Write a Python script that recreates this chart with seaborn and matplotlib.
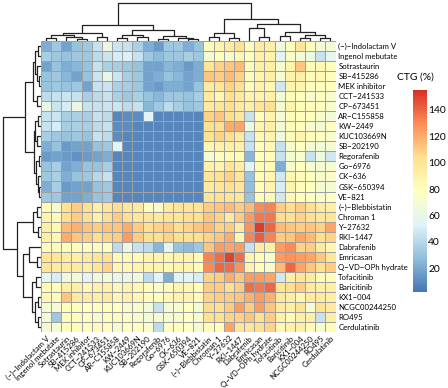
import numpy as np
import pandas as pd
import matplotlib
matplotlib.use("Agg")
import matplotlib.pyplot as plt
import seaborn as sns
from matplotlib.colors import LinearSegmentedColormap

drugs = ["(−)−Indolactam V", "Ingenol mebutate", "Sotrastaurin", "SB−415286", "MEK inhibitor",
         "CCT−241533", "CP−673451", "AR−C155858", "KW−2449", "KUC103669N", "SB−202190",
         "Regorafenib", "Go−6976", "CK−636", "GSK−650394", "VE−821", "(−)−Blebbistatin",
         "Chroman 1", "Y−27632", "RKI−1447", "Dabrafenib", "Emricasan", "Q−VD−OPh hydrate",
         "Tofacitinib", "Baricitinib", "KX1−004", "NCGC00244250", "RO495", "Cerdulatinib"]

# CTG (%) values, rows = drugs (same order), columns = drugs
ctg_values = [
    [22, 32, 18, 30, 32, 45, 62, 46, 45, 36, 22, 15, 32, 32, 22, 30, 80, 88, 95, 102, 80, 95, 92, 65, 78, 100, 80, 68, 68],
    [35, 32, 30, 32, 32, 42, 46, 50, 52, 45, 32, 26, 32, 32, 35, 32, 70, 80, 72, 85, 78, 90, 88, 55, 75, 68, 65, 45, 58],
    [18, 30, 22, 25, 30, 45, 36, 35, 32, 30, 18, 18, 25, 22, 15, 22, 100, 108, 112, 115, 82, 92, 92, 72, 88, 112, 82, 85, 80],
    [30, 32, 25, 18, 30, 46, 60, 46, 35, 32, 18, 22, 30, 25, 18, 22, 112, 110, 115, 108, 80, 88, 92, 70, 90, 90, 82, 85, 80],
    [30, 32, 30, 32, 18, 45, 46, 36, 35, 32, 18, 15, 22, 22, 18, 30, 95, 100, 108, 102, 80, 90, 85, 48, 88, 88, 80, 78, 78],
    [42, 45, 46, 45, 35, 42, 45, 36, 32, 36, 30, 25, 32, 32, 30, 35, 95, 85, 102, 95, 88, 88, 90, 68, 80, 80, 72, 78, 72],
    [62, 46, 50, 62, 45, 45, 46, 46, 42, 45, 25, 32, 42, 35, 30, 32, 95, 100, 104, 95, 92, 100, 102, 70, 88, 82, 80, 78, 72],
    [45, 46, 35, 36, 35, 45, 42, 8, 10, 10, 55, 8, 8, 8, 9, 8, 108, 112, 104, 98, 45, 82, 88, 68, 82, 82, 80, 72, 68],
    [45, 50, 35, 36, 35, 42, 45, 10, 10, 8, 8, 8, 8, 8, 8, 8, 102, 104, 120, 122, 65, 88, 92, 68, 80, 80, 72, 70, 76],
    [35, 32, 30, 32, 30, 45, 42, 10, 8, 8, 8, 8, 8, 8, 8, 8, 102, 108, 104, 95, 45, 85, 88, 65, 82, 88, 80, 78, 72],
    [22, 30, 15, 18, 18, 30, 32, 55, 8, 8, 8, 8, 8, 8, 8, 8, 85, 90, 92, 90, 45, 80, 85, 45, 72, 78, 70, 68, 70],
    [15, 18, 15, 12, 15, 18, 22, 8, 8, 8, 8, 8, 8, 8, 8, 8, 70, 80, 82, 82, 25, 78, 80, 45, 70, 72, 45, 65, 48],
    [30, 35, 18, 22, 30, 30, 35, 8, 8, 8, 8, 8, 8, 8, 8, 8, 90, 88, 100, 92, 55, 82, 82, 22, 72, 78, 72, 70, 70],
    [32, 36, 22, 30, 32, 40, 45, 8, 8, 8, 8, 8, 8, 8, 8, 8, 100, 102, 108, 98, 30, 82, 85, 48, 85, 82, 78, 72, 75],
    [22, 35, 15, 18, 18, 30, 32, 8, 8, 8, 8, 8, 8, 8, 8, 8, 95, 100, 102, 98, 28, 82, 88, 50, 88, 82, 78, 70, 70],
    [32, 32, 18, 18, 22, 30, 32, 8, 8, 8, 8, 8, 8, 8, 8, 8, 100, 102, 100, 98, 30, 82, 85, 48, 85, 80, 78, 72, 76],
    [82, 70, 102, 110, 102, 92, 100, 104, 98, 95, 80, 72, 95, 100, 98, 100, 110, 112, 115, 110, 115, 130, 132, 110, 104, 110, 104, 95, 92],
    [88, 82, 104, 110, 104, 90, 104, 110, 104, 98, 98, 95, 100, 98, 104, 102, 112, 108, 95, 110, 125, 135, 135, 104, 102, 108, 104, 98, 100],
    [92, 85, 115, 118, 112, 110, 112, 112, 120, 110, 104, 108, 110, 104, 108, 112, 115, 108, 110, 95, 128, 152, 140, 115, 112, 110, 112, 108, 122],
    [92, 85, 120, 112, 110, 104, 108, 110, 125, 110, 104, 102, 108, 104, 102, 102, 108, 112, 120, 85, 132, 142, 132, 110, 112, 122, 115, 104, 108],
    [80, 82, 80, 82, 80, 82, 80, 42, 62, 45, 42, 25, 58, 30, 26, 32, 112, 125, 122, 125, 45, 95, 92, 125, 130, 108, 110, 95, 85],
    [100, 100, 95, 92, 95, 100, 102, 82, 82, 82, 88, 88, 85, 88, 88, 82, 132, 138, 150, 138, 88, 82, 72, 125, 128, 125, 122, 112, 98],
    [100, 95, 95, 95, 92, 100, 108, 85, 85, 88, 88, 88, 85, 88, 88, 82, 130, 140, 138, 128, 88, 82, 72, 115, 140, 122, 112, 104, 110],
    [58, 50, 65, 68, 55, 65, 68, 62, 62, 65, 42, 55, 22, 55, 55, 50, 108, 110, 120, 112, 125, 125, 122, 48, 92, 100, 95, 82, 82],
    [82, 80, 92, 92, 85, 90, 90, 85, 88, 85, 82, 72, 82, 88, 86, 80, 110, 110, 104, 110, 138, 135, 140, 100, 104, 110, 95, 92, 92],
    [85, 80, 112, 95, 95, 92, 95, 85, 90, 85, 82, 80, 85, 88, 88, 82, 108, 110, 110, 112, 118, 125, 118, 95, 92, 85, 95, 95, 92],
    [72, 68, 80, 80, 78, 80, 80, 78, 72, 72, 68, 45, 70, 72, 78, 70, 105, 104, 110, 125, 110, 125, 112, 95, 92, 102, 70, 102, 95],
    [68, 32, 80, 82, 78, 72, 80, 80, 78, 72, 70, 68, 70, 72, 76, 72, 102, 102, 108, 108, 112, 102, 110, 90, 82, 92, 92, 45, 92],
    [68, 70, 80, 82, 80, 82, 80, 72, 78, 78, 72, 42, 78, 78, 76, 70, 82, 80, 122, 100, 100, 102, 108, 85, 90, 92, 82, 72, 82],
]

cbar_ticks = [20, 40, 60, 80, 100, 120, 140]

# dendrograms: (left, right, merge height in px away from the heatmap)
col_tree = (
    ((((0, 1, 3), (2, (3, 4, 2), 4), 6), (5, 6, 4), 8),
     (((7, 8, 3), (9, 10, 4), 6), ((11, 12, 2.5), (13, (14, 15, 2), 3.5), 5), 11), 16),
    (((16, 17, 4), (18, 19, 3), 8),
     ((20, (21, 22, 4), 13), ((23, 24, 5), ((25, 26, 3), (27, 28, 3), 6), 9), 17), 21.7),
    38.3)
row_tree = (
    ((((0, 1, 3), (2, (3, 4, 2), 4), 6), (5, 6, 4), 8),
     (((7, 8, 3), (9, 10, 4), 6), ((11, 12, 2.5), (13, (14, 15, 2), 3.5), 5), 7), 16),
    (((16, 17, 4), (18, 19, 3), 8),
     ((20, (21, 22, 4), 12), ((23, 24, 5), ((25, 26, 3), (27, 28, 3), 6), 9), 18), 24.3),
    38.3)

df = pd.DataFrame(ctg_values, index=drugs, columns=drugs)

pal = ["#4575B4", "#91BFDB", "#E0F3F8", "#FFFFBF", "#FEE090", "#FC8D59", "#D73027"]
cmap = LinearSegmentedColormap.from_list("rdylbu7", pal)

W, H = 448, 388
fig = plt.figure(figsize=(W / 100, H / 100), dpi=100)
font = "Lato"


def box(x0, y0, x1, y1):
    return [x0 / W, 1 - y1 / H, (x1 - x0) / W, (y1 - y0) / H]


hx0, hy0, hx1, hy1 = 41, 41, 335.5, 332
ax = fig.add_axes(box(hx0, hy0, hx1, hy1))
cax = fig.add_axes(box(413, 90, 427, 292))
sns.heatmap(df, ax=ax, cmap=cmap, vmin=2, vmax=155, linewidths=0.7, linecolor="#a0a0a0",
            cbar_ax=cax, cbar_kws={"ticks": cbar_ticks})
ax.yaxis.tick_right()
ax.set_yticks(np.arange(len(drugs)) + 0.5)
ax.set_yticklabels(drugs, rotation=0, fontsize=5.6, family=font)
ax.set_xticks(np.arange(len(drugs)) + 0.5)
ax.set_xticklabels(drugs, rotation=45, ha="right", va="top", rotation_mode="anchor",
                   fontsize=5.6, family=font)
ax.tick_params(length=0, pad=2)
ax.set_xlabel("")
ax.set_ylabel("")

cax.tick_params(length=0, labelsize=7.4, pad=1)
for t in cax.get_yticklabels():
    t.set_family(font)
cbar = ax.collections[0].colorbar
cbar.outline.set_visible(False)
fig.text(415 / W, 1 - 77 / H, "CTG (%)", ha="center", va="center", fontsize=7.4, family=font)


def draw_tree(a, node, side):
    if isinstance(node, int):
        return node + 0.5, 0.0
    left, right, h = node
    p1, h1 = draw_tree(a, left, side)
    p2, h2 = draw_tree(a, right, side)
    if side == "top":
        a.plot([p1, p1, p2, p2], [h1, h, h, h2], color="#222222", lw=0.9, solid_capstyle="butt")
    else:
        a.plot([h1, h, h, h2], [p1, p1, p2, p2], color="#222222", lw=0.9, solid_capstyle="butt")
    return (p1 + p2) / 2, h


top = fig.add_axes(box(hx0, 0, hx1, hy0))
draw_tree(top, col_tree, "top")
top.set_xlim(0, len(drugs))
top.set_ylim(0, hy0)
top.axis("off")

left = fig.add_axes(box(0, hy0, hx0, hy1))
draw_tree(left, row_tree, "left")
left.set_ylim(len(drugs), 0)
left.set_xlim(hx0, 0)
left.axis("off")

fig.savefig("out.png", dpi=100)
